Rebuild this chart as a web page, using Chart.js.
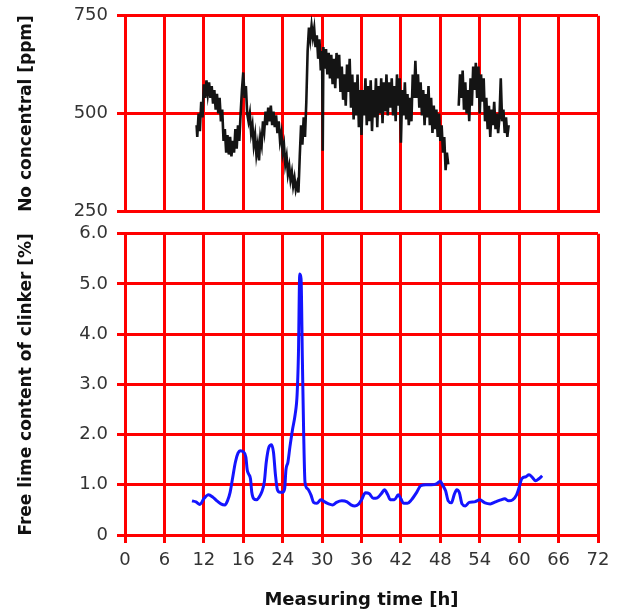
<!DOCTYPE html>
<html>
<head>
<meta charset="utf-8">
<script src="https://cdn.jsdelivr.net/npm/chart.js@4.4.1/dist/chart.umd.min.js"></script>
<style>
  html, body { margin: 0; padding: 0; background: #fff; }
  #wrap { position: relative; width: 620px; height: 611px; overflow: hidden; }
  .panel { position: absolute; left: 0; width: 620px; }
  #topPanel { top: -4px; height: 235px; }
  #bottomPanel { top: 214px; height: 397px; }
</style>
</head>
<body>
<div id="wrap">
  <div class="panel" id="topPanel"><canvas id="noChart"></canvas></div>
  <div class="panel" id="bottomPanel"><canvas id="limeChart"></canvas></div>
</div>
<script>
// x tick labels as printed in the figure (note the "16" where 18 would be)
const timeTickLabels = ['0', '6', '12', '16', '24', '30', '36', '42', '48', '54', '60', '66', '72'];

// NO concentration trace [ppm] (null = gap in record)
const noHours = [
  10.9, 11.0, 11.2, 11.4, 11.6, 11.8, 12.0, 12.2, 12.4, 12.6, 12.8, 13.0, 13.2, 13.4, 13.6, 13.8,
  14.0, 14.2, 14.4, 14.6, 14.8, 15.0, 15.2, 15.4, 15.6, 15.8, 16.0, 16.2, 16.4, 16.6, 16.8,
  17.0, 17.2, 17.4, 17.6, 17.8, 18.0, 18.2, 18.4, 18.6, 18.8, 19.0, 19.2, 19.4, 19.6, 19.8,
  20.0, 20.2, 20.4, 20.6, 20.8, 21.0, 21.2, 21.4, 21.6, 21.8, 22.0, 22.2, 22.4, 22.6, 22.8,
  23.0, 23.2, 23.4, 23.6, 23.8, 24.0, 24.2, 24.4, 24.6, 24.8, 25.0, 25.2, 25.4, 25.6, 25.8,
  26.0, 26.2, 26.4, 26.6, 26.8, 27.0, 27.2, 27.4, 27.6, 27.8, 28.0, 28.2, 28.4, 28.6, 28.8,
  29.0, 29.2, 29.4, 29.6, 29.8, 30.0, 30.1, 30.2, 30.4, 30.6, 30.8, 31.0, 31.2, 31.4, 31.6, 31.8,
  32.0, 32.2, 32.4, 32.6, 32.8, 33.0, 33.2, 33.4, 33.6, 33.8, 34.0, 34.2, 34.4, 34.6, 34.8,
  35.0, 35.2, 35.4, 35.6, 35.8, 36.0, 36.2, 36.4, 36.6, 36.8, 37.0, 37.2, 37.4, 37.6, 37.8,
  38.0, 38.2, 38.4, 38.6, 38.8, 39.0, 39.2, 39.4, 39.6, 39.8, 40.0, 40.2, 40.4, 40.6, 40.8,
  41.0, 41.2, 41.4, 41.6, 41.8, 42.0, 42.2, 42.4, 42.6, 42.8, 43.0, 43.2, 43.4, 43.6, 43.8,
  44.0, 44.2, 44.4, 44.6, 44.8, 45.0, 45.2, 45.4, 45.6, 45.8, 46.0, 46.2, 46.4, 46.6, 46.8,
  47.0, 47.2, 47.4, 47.6, 47.8, 48.0, 48.2, 48.4, 48.6, 48.8, 49.0, 49.2,
  50.0,
  50.8, 51.0, 51.2, 51.4, 51.6, 51.8, 52.0, 52.2, 52.4, 52.6, 52.8, 53.0, 53.2, 53.4, 53.6, 53.8,
  54.0, 54.2, 54.4, 54.6, 54.8, 55.0, 55.2, 55.4, 55.6, 55.8, 56.0, 56.2, 56.4, 56.6, 56.8,
  57.0, 57.2, 57.4, 57.6, 57.8, 58.0, 58.2, 58.4
];
const noPpm = [
  470, 440, 500, 455, 530, 490, 575, 540, 585, 550, 580, 540, 570, 525, 560, 510,
  550, 500, 540, 480, 510, 430, 460, 400, 445, 395, 440, 390, 430, 400, 460,
  410, 470, 430, 500, 560, 605, 540, 570, 500, 480, 500, 450, 470, 420, 445,
  395, 420, 380, 440, 420, 480, 455, 505, 470, 515, 480, 520, 470, 505, 465,
  495, 450, 480, 430, 450, 400, 420, 370, 390, 345, 365, 330, 350, 315, 335,
  305, 320, 298, 390, 470, 420, 490, 440, 530, 660, 720, 690, 725, 695, 718,
  670, 700, 640, 690, 610, 660, 405, 670, 615, 665, 600, 655, 590, 650, 575, 640,
  565, 655, 590, 650, 555, 620, 535, 600, 520, 625, 555, 640, 515, 600, 485,
  580, 495, 600, 465, 560, 445, 560, 495, 590, 470, 570, 480, 585, 455, 560,
  490, 590, 465, 570, 500, 590, 475, 580, 505, 600, 495, 580, 515, 590, 495,
  570, 480, 600, 520, 590, 425, 560, 495, 580, 485, 550, 470, 540, 480, 600,
  540, 635, 540, 600, 515, 580, 495, 560, 470, 550, 490, 570, 470, 540, 450,
  520, 460, 510, 440, 500, 430, 470, 400, 440, 355, 400, 370,
  null,
  520, 600, 540, 610, 510, 580, 500, 560, 480, 590, 520, 620, 560, 630, 540, 620,
  500, 600, 530, 590, 480, 540, 460, 520, 440, 510, 470, 530, 460, 500, 450,
  490, 590, 480, 510, 450, 490, 440, 470
];

// free lime content of clinker [%]
const limeHours = [
  10.2, 10.8, 11.4, 12.0, 12.7, 13.4, 14.0, 14.6, 15.2, 15.6, 16.0, 16.4, 16.8, 17.2, 17.6,
  18.0, 18.4, 18.6, 18.8, 19.1, 19.3, 19.6, 20.0, 20.4, 20.8, 21.2, 21.5, 21.9, 22.3, 22.6,
  22.9, 23.2, 23.6, 24.0, 24.3, 24.5, 24.8, 25.1, 25.5, 25.9, 26.2, 26.4, 26.6, 26.8, 27.0,
  27.2, 27.4, 27.8, 28.3, 28.7, 29.2, 29.8, 30.4, 31.0, 31.6, 32.2, 33.0, 33.8, 34.4, 35.0,
  35.6, 36.0, 36.6, 37.2, 37.8, 38.4, 39.0, 39.5, 40.0, 40.4, 41.0, 41.6, 42.0, 42.4, 43.0,
  43.6, 44.4, 45.0, 45.8, 46.6, 47.4, 48.0, 48.4, 48.8, 49.2, 49.7, 50.1, 50.5, 50.9, 51.3,
  51.8, 52.4, 53.2, 54.0, 54.8, 55.6, 56.4, 57.2, 57.8, 58.4, 59.0, 59.6, 60.0, 60.4, 61.0,
  61.5, 62.0, 62.5, 63.0, 63.5
];
const limePct = [
  0.68, 0.66, 0.61, 0.72, 0.80, 0.75, 0.68, 0.62, 0.60, 0.68, 0.85, 1.15, 1.45, 1.63, 1.68,
  1.66, 1.55, 1.30, 1.22, 1.12, 0.85, 0.72, 0.70, 0.75, 0.85, 1.05, 1.45, 1.75, 1.80, 1.65,
  1.20, 0.90, 0.85, 0.85, 0.92, 1.30, 1.45, 1.75, 2.10, 2.40, 2.80, 3.60, 5.20, 5.10, 3.50,
  2.00, 1.05, 0.92, 0.80, 0.65, 0.63, 0.70, 0.66, 0.62, 0.60, 0.65, 0.68, 0.66, 0.60, 0.58,
  0.62, 0.70, 0.84, 0.82, 0.73, 0.74, 0.82, 0.90, 0.80, 0.70, 0.70, 0.80, 0.72, 0.63, 0.63,
  0.70, 0.85, 0.98, 1.00, 1.00, 1.02, 1.07, 0.98, 0.88, 0.68, 0.64, 0.80, 0.90, 0.84, 0.62,
  0.58, 0.65, 0.66, 0.70, 0.64, 0.62, 0.66, 0.70, 0.72, 0.68, 0.70, 0.80, 0.95, 1.12, 1.16,
  1.20, 1.15, 1.08, 1.12, 1.18
];

const gridRed = '#ff0000';
const tickFont = { family: 'DejaVu Sans', size: 18 };
const titleFont = { family: 'DejaVu Sans', size: 17, weight: 'bold' };

function timeAxis(showLabels, axisHeight) {
    return {
        type: 'linear',
        min: 0,
        max: 72,
        grid: { color: gridRed, lineWidth: 3, drawTicks: showLabels, tickLength: 8 },
        border: { color: gridRed, width: 3 },
        ticks: {
            display: showLabels,
            stepSize: 6,
            autoSkip: false,
            maxRotation: 0,
            padding: 7,
            color: '#333',
            font: tickFont,
            callback: v => timeTickLabels[Math.round(v / 6)]
        },
        title: {
            display: showLabels,
            text: 'Measuring time [h]',
            color: '#111',
            font: { family: 'DejaVu Sans', size: 18, weight: 'bold' },
            padding: { top: 0, bottom: 0 }
        },
        afterFit: scale => { scale.height = axisHeight; }
    };
}

function valueAxis(min, max, step, title, fmt) {
    return {
        min: min,
        max: max,
        grid: { color: gridRed, lineWidth: 3, tickLength: 8 },
        border: { color: gridRed, width: 3 },
        ticks: { stepSize: step, color: '#333', font: tickFont, padding: 9, callback: fmt },
        title: { display: true, text: title, color: '#111', font: titleFont, padding: { top: 4, bottom: 4 } },
        afterFit: scale => { scale.width = 113; }
    };
}

const basePlugins = { legend: { display: false }, tooltip: { enabled: false } };

new Chart(document.getElementById('noChart'), {
    type: 'line',
    data: {
        datasets: [{
            data: noHours.map((h, i) => ({ x: h, y: noPpm[i] })),
            borderColor: '#141414',
            borderWidth: 2.6,
            pointRadius: 0,
            tension: 0,
            spanGaps: false
        }]
    },
    options: {
        responsive: true,
        maintainAspectRatio: false,
        animation: false,
        layout: { padding: { left: 12, right: 22, top: 0, bottom: 0 } },
        plugins: basePlugins,
        scales: {
            x: timeAxis(false, 12),
            y: valueAxis(250, 750, 250, 'No concentral [ppm]', v => String(v))
        }
    }
});

new Chart(document.getElementById('limeChart'), {
    type: 'line',
    data: {
        datasets: [{
            data: limeHours.map((h, i) => ({ x: h, y: limePct[i] })),
            borderColor: '#1414ff',
            borderWidth: 3,
            pointRadius: 0,
            cubicInterpolationMode: 'monotone'
        }]
    },
    options: {
        responsive: true,
        maintainAspectRatio: false,
        animation: false,
        layout: { padding: { left: 12, right: 22, top: 0, bottom: 0 } },
        plugins: basePlugins,
        scales: {
            x: timeAxis(true, 76),
            y: valueAxis(0, 6, 1, 'Free lime content of clinker [%]', v => v === 0 ? '0' : v.toFixed(1))
        }
    }
});
</script>
</body>
</html>
